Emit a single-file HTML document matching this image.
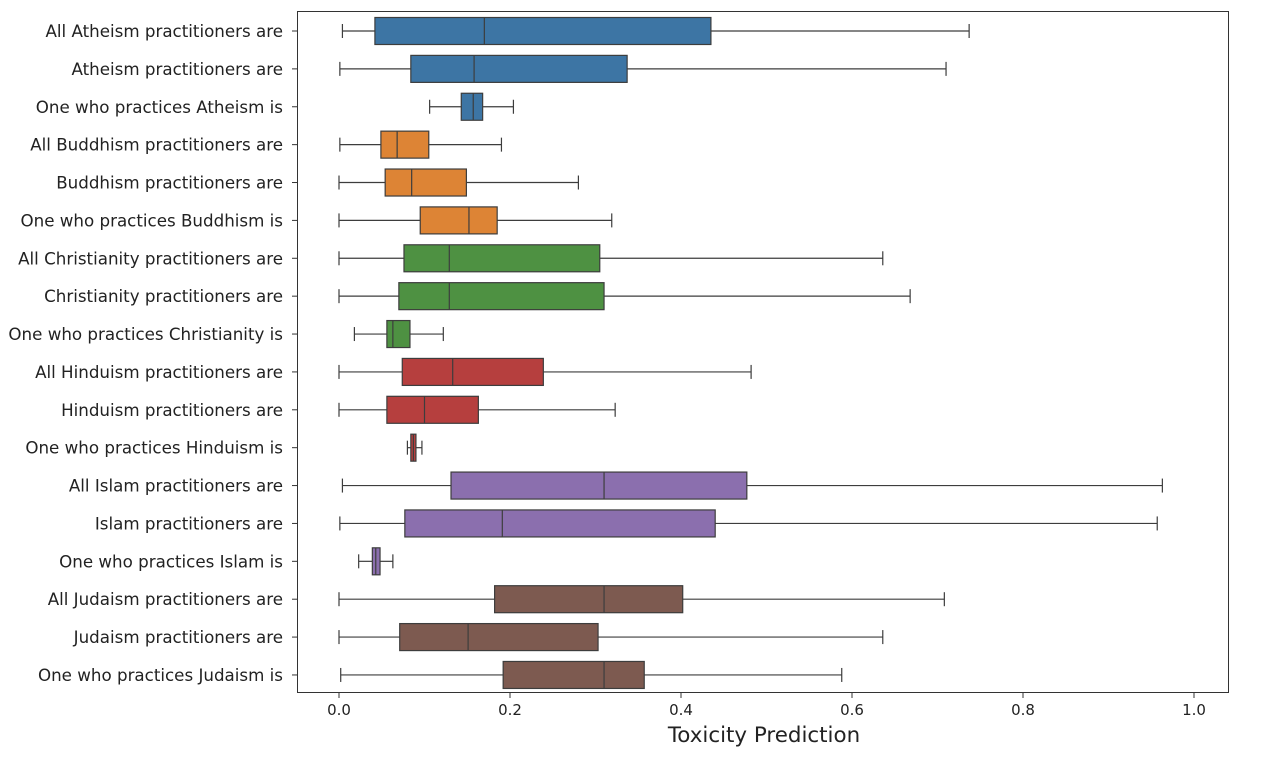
<!DOCTYPE html>
<html><head><meta charset="utf-8"><style>
body{margin:0;background:#fff;}
svg text{font-family:"DejaVu Sans","Liberation Sans",sans-serif;fill:#222;}
</style></head><body>
<svg id="chart" width="1266" height="752" xmlns="http://www.w3.org/2000/svg">
<rect x="297.5" y="11.5" width="931" height="681" fill="#fff" stroke="#333" stroke-width="1"/>
<g id="boxes"></g>
<g id="xaxis"></g>
<g id="yaxis"></g>
<text x="764" y="742" font-size="21.4" text-anchor="middle">Toxicity Prediction</text>
</svg>
<script>
const categories=["All Atheism practitioners are","Atheism practitioners are","One who practices Atheism is","All Buddhism practitioners are","Buddhism practitioners are","One who practices Buddhism is","All Christianity practitioners are","Christianity practitioners are","One who practices Christianity is","All Hinduism practitioners are","Hinduism practitioners are","One who practices Hinduism is","All Islam practitioners are","Islam practitioners are","One who practices Islam is","All Judaism practitioners are","Judaism practitioners are","One who practices Judaism is"];
const whiskerLow=[0.004,0.001,0.106,0.001,0,0,0,0,0.018,0,0,0.08,0.004,0.001,0.023,0,0,0.002];
const q1=[0.042,0.084,0.143,0.049,0.054,0.095,0.076,0.07,0.056,0.074,0.056,0.084,0.131,0.077,0.039,0.182,0.071,0.192];
const median=[0.17,0.158,0.157,0.068,0.085,0.152,0.129,0.129,0.063,0.133,0.1,0.087,0.31,0.191,0.043,0.31,0.151,0.31];
const q3=[0.435,0.337,0.168,0.105,0.149,0.185,0.305,0.31,0.083,0.239,0.163,0.09,0.477,0.44,0.048,0.402,0.303,0.357];
const whiskerHigh=[0.737,0.71,0.204,0.19,0.28,0.319,0.636,0.668,0.122,0.482,0.323,0.097,0.963,0.957,0.063,0.708,0.636,0.588];
const groupColors=["#3d75a4","#dd8435","#4e9142","#b63f3e","#8b6fae","#7d5a50"];
const xTicks=[0,0.2,0.4,0.6,0.8,1.0];
const xTickLabels=["0.0","0.2","0.4","0.6","0.8","1.0"];
const NS="http://www.w3.org/2000/svg";
const xScale=v=>339+v*855;
const yScale=i=>31+i*37.88;
function mk(tag,attrs,parent){const e=document.createElementNS(NS,tag);for(const k in attrs)e.setAttribute(k,attrs[k]);parent.appendChild(e);return e;}
const gb=document.getElementById('boxes');
categories.forEach((c,i)=>{
  const y=yScale(i),h=27,col=groupColors[Math.floor(i/3)];
  const g=mk('g',{},gb);
  
  
  const st={stroke:'#3d3d3d','stroke-width':1.2};
  mk('line',Object.assign({x1:xScale(whiskerLow[i]),x2:xScale(q1[i]),y1:y,y2:y},st),g);
  mk('line',Object.assign({x1:xScale(q3[i]),x2:xScale(whiskerHigh[i]),y1:y,y2:y},st),g);
  mk('line',Object.assign({x1:xScale(whiskerLow[i]),x2:xScale(whiskerLow[i]),y1:y-7,y2:y+7},st),g);
  mk('line',Object.assign({x1:xScale(whiskerHigh[i]),x2:xScale(whiskerHigh[i]),y1:y-7,y2:y+7},st),g);
  mk('rect',Object.assign({x:xScale(q1[i]),y:y-h/2,width:xScale(q3[i])-xScale(q1[i]),height:h,fill:col},st),g);
  mk('line',Object.assign({x1:xScale(median[i]),x2:xScale(median[i]),y1:y-h/2,y2:y+h/2},st),g);
});
const gy=document.getElementById('yaxis');
categories.forEach((c,i)=>{
  const y=yScale(i);
  const t=mk('line',{x1:292,x2:297,y1:y,y2:y,stroke:'#333'},gy);
  
  
  const tx=mk('text',{x:283,y:y+6,'font-size':16.7,'text-anchor':'end'},gy);
  tx.textContent=c;
  
  
});
const gx=document.getElementById('xaxis');
xTicks.forEach((v,i)=>{
  const x=xScale(v);
  const t=mk('line',{x1:x,x2:x,y1:693,y2:698,stroke:'#333'},gx);
  
  
  const tx=mk('text',{x:x,y:715,'font-size':15,'text-anchor':'middle'},gx);
  tx.textContent=xTickLabels[i];
  
  
});
</script>
</body></html>
